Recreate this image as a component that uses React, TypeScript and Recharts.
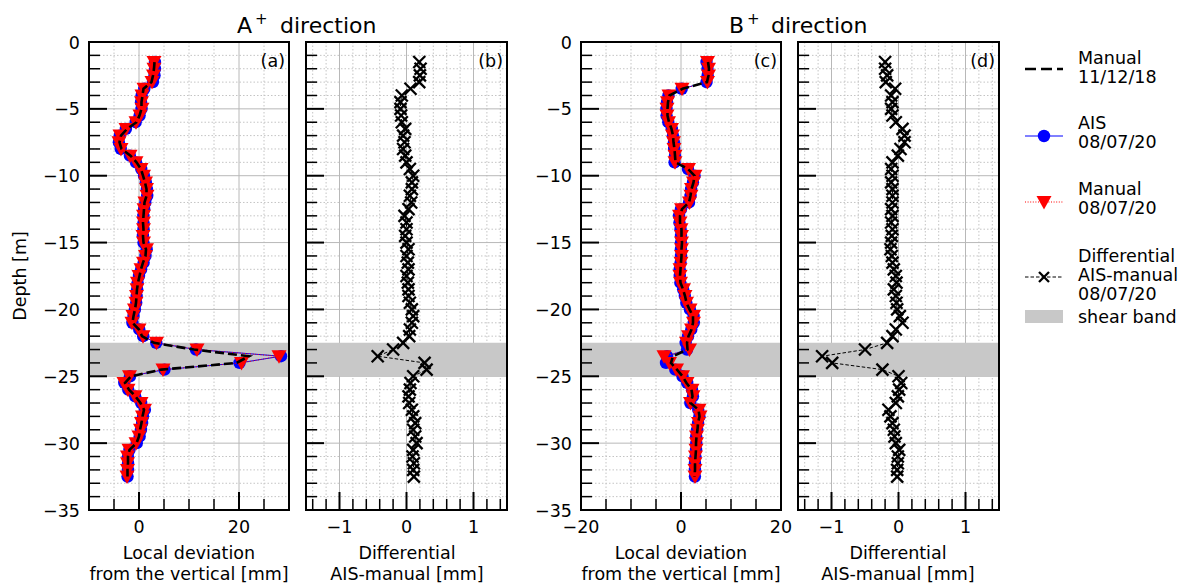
import React from 'react';
import { CartesianGrid, ReferenceArea, Scatter, ScatterChart, XAxis, YAxis } from 'recharts';

// depth of each reading [m]
const depth = [
  -1.5, -2, -2.5, -3, -3.5, -4, -4.5, -5, -5.5, -6, -6.5, -7, -7.5, -8, -8.5, -9, -9.5, -10, -10.5, -11,
  -11.5, -12, -12.5, -13, -13.5, -14, -14.5, -15, -15.5, -16, -16.5, -17, -17.5, -18, -18.5, -19, -19.5,
  -20, -20.5, -21, -21.5, -22, -22.5, -23, -23.5, -24, -24.5, -25, -25.5, -26, -26.5, -27, -27.5, -28,
  -28.5, -29, -29.5, -30, -30.5, -31, -31.5, -32, -32.5,
];

// A+ direction, local deviation [mm]
const manual2018A = [
  3.1, 3.0, 2.8, 2.5, 0.9, 0.7, 0.5, 0.5, 0.1, -0.5, -2.4, -3.6, -3.9, -3.5, -1.7, -0.5, 0.4, 0.8, 1.2, 1.5,
  1.5, 1.1, 1.0, 0.9, 0.8, 0.9, 0.8, 0.9, 1.4, 1.3, 0.8, 0.4, 0.1, -0.2, -0.4, -0.5, -0.6, -0.8, -1.1, -1.3,
  0.0, 0.6, 3.0, 11.0, 22.0, 19.5, 4.5, -1.6, -2.8, -2.0, -0.7, 0.3, 1.0, 0.7, 0.5, 0.2, 0.0, -0.5, -1.9, -2.2,
  -2.2, -2.3, -2.3,
];
const ais2020A = [
  3.19, 3.21, 3.1, 2.79, 1.06, 0.53, 0.41, 0.51, 0.12, -0.67, -2.62, -3.85, -4.03, -3.65, -1.82, -0.6, 0.45,
  1.0, 1.38, 1.58, 1.65, 1.27, 1.03, 0.87, 0.9, 0.9, 0.78, 0.9, 1.53, 1.3, 0.92, 0.43, 0.0, -0.28, -0.37,
  -0.47, -0.55, -0.82, -1.1, -1.32, 0.05, 0.84, 3.45, 11.4, 28.4, 20.1, 5.1, -1.8, -2.94, -2.15, -0.77, 0.44,
  1.18, 0.8, 0.63, 0.4, 0.13, -0.45, -1.9, -2.21, -2.19, -2.2, -2.29,
];
const manual2020A = [
  3.0, 3.0, 2.9, 2.6, 1.0, 0.6, 0.5, 0.6, 0.2, -0.6, -2.6, -3.8, -4.0, -3.6, -1.8, -0.6, 0.4, 0.9, 1.3, 1.5,
  1.6, 1.2, 1.0, 0.9, 0.9, 0.9, 0.8, 0.9, 1.5, 1.3, 0.9, 0.4, 0.0, -0.3, -0.4, -0.5, -0.6, -0.9, -1.2, -1.4,
  0.0, 0.8, 3.5, 11.6, 28.0, 20.5, 4.8, -1.9, -3.0, -2.2, -0.8, 0.4, 1.1, 0.7, 0.5, 0.3, 0.0, -0.6, -2.0, -2.3,
  -2.3, -2.3, -2.4,
];
const diffA = [
  0.19, 0.21, 0.2, 0.19, 0.06, -0.07, -0.09, -0.09, -0.08, -0.07, -0.02, -0.05, -0.03, -0.05, -0.02, 0.0,
  0.05, 0.1, 0.08, 0.08, 0.05, 0.07, 0.03, -0.03, 0.0, 0.0, -0.02, 0.0, 0.03, 0.0, 0.02, 0.03, 0.0, 0.02,
  0.03, 0.03, 0.05, 0.08, 0.1, 0.08, 0.05, 0.04, -0.05, -0.2, -0.43, 0.27, 0.3, 0.1, 0.06, 0.05, 0.03, 0.04,
  0.08, 0.1, 0.13, 0.1, 0.13, 0.15, 0.1, 0.09, 0.11, 0.1, 0.11,
];

// B+ direction, local deviation [mm]
const manual2018B = [
  5.4, 5.6, 5.5, 5.2, 0.3, -2.3, -2.6, -2.7, -2.7, -2.4, -1.9, -1.6, -1.5, -1.3, -1.2, -1.1, 1.4, 2.7, 2.5,
  2.1, 1.9, 1.6, 0.2, -0.2, -0.2, 0.1, 0.1, 0.2, 0.1, 0.1, 0.0, -0.1, -0.2, -0.1, 0.4, 0.8, 1.1, 1.7, 2.4,
  2.4, 2.1, 1.5, 1.2, 1.3, -1.6, -2.0, -0.8, 0.3, 1.1, 2.1, 2.3, 1.9, 3.5, 3.7, 3.4, 3.3, 3.1, 3.0, 3.0, 2.9,
  2.8, 2.8, 2.7,
];
const ais2020B = [
  5.1, 5.3, 5.33, 5.11, 0.15, -2.51, -2.79, -2.91, -2.89, -2.54, -1.84, -1.61, -1.41, -1.37, -1.21, -1.29,
  1.39, 2.71, 2.39, 2.01, 1.91, 1.61, -0.01, -0.39, -0.31, -0.09, 0.0, -0.01, -0.02, 0.0, -0.09, -0.27,
  -0.24, -0.13, 0.43, 0.76, 1.07, 1.78, 2.52, 2.56, 2.06, 1.41, 0.93, 1.2, -2.8, -3.0, -1.14, 0.3, 1.24, 2.21,
  2.39, 1.86, 3.45, 3.68, 3.41, 3.23, 3.04, 3.06, 3.01, 2.89, 2.79, 2.78, 2.78,
];
const manual2020B = [
  5.3, 5.5, 5.5, 5.3, 0.2, -2.4, -2.7, -2.8, -2.8, -2.5, -1.9, -1.7, -1.5, -1.4, -1.2, -1.2, 1.5, 2.8, 2.5,
  2.1, 2.0, 1.7, 0.1, -0.3, -0.2, 0.0, 0.1, 0.1, 0.1, 0.1, 0.0, -0.2, -0.2, -0.1, 0.5, 0.8, 1.1, 1.8, 2.5,
  2.5, 2.1, 1.5, 1.1, 1.7, -3.4, -2.3, -0.9, 0.3, 1.2, 2.2, 2.4, 1.9, 3.6, 3.8, 3.5, 3.3, 3.1, 3.1, 3.0, 2.9,
  2.8, 2.8, 2.8,
];
const diffB = [
  -0.2, -0.2, -0.17, -0.19, -0.05, -0.11, -0.09, -0.11, -0.09, -0.04, 0.06, 0.09, 0.09, 0.03, -0.01, -0.09,
  -0.11, -0.09, -0.11, -0.09, -0.09, -0.09, -0.11, -0.09, -0.11, -0.09, -0.1, -0.11, -0.12, -0.1, -0.09,
  -0.07, -0.04, -0.03, -0.07, -0.04, -0.03, -0.02, 0.02, 0.06, -0.04, -0.09, -0.17, -0.5, -1.14, -0.99,
  -0.24, 0.0, 0.04, 0.01, -0.01, -0.04, -0.15, -0.12, -0.09, -0.07, -0.06, -0.04, 0.01, -0.01, -0.01, -0.02,
  -0.02,
];

const shearBand = [-25, -22.5];

// ticks
const depthTicks = [
  0, -1, -2, -3, -4, -5, -6, -7, -8, -9, -10, -11, -12, -13, -14, -15, -16, -17, -18, -19, -20, -21, -22,
  -23, -24, -25, -26, -27, -28, -29, -30, -31, -32, -33, -34, -35,
];
const depthMajor = [0, -5, -10, -15, -20, -25, -30, -35];
const devTicksA = [-5, 0, 5, 10, 15, 20, 25];
const devMajorA = [0, 20];
const devTicksB = [-15, -10, -5, 0, 5, 10, 15];
const devMajorB = [-20, 0, 20];
const diffTicks = [-1.4, -1.2, -1, -0.8, -0.6, -0.4, -0.2, 0, 0.2, 0.4, 0.6, 0.8, 1, 1.2, 1.4];
const diffMajor = [-1, 0, 1];

const FONT = 'DejaVu Sans';
const FS = 17.5;

const fmt = (n: number) => (n < 0 ? '\u2212' + Math.abs(n) : String(n));
const toPoints = (vals: number[]) => vals.map((v, i) => ({ v, d: depth[i] }));

const xTick = (major: number[]) => (props: any) => {
  const { x, y, payload } = props;
  const isMajor = major.includes(payload.value);
  return (
    <g>
      <line x1={x} x2={x} y1={y} y2={y - (isMajor ? 18 : 11)} stroke="#000" strokeWidth={isMajor ? 2 : 1.5} />
      {isMajor && (
        <text x={x} y={y + 23} textAnchor="middle" fontFamily={FONT} fontSize={FS} fill="#000">
          {fmt(payload.value)}
        </text>
      )}
    </g>
  );
};

const yTick = (major: number[], labels: boolean) => (props: any) => {
  const { x, y, payload } = props;
  const isMajor = major.includes(payload.value);
  return (
    <g>
      <line x1={x} x2={x + (isMajor ? 18 : 11)} y1={y} y2={y} stroke="#000" strokeWidth={isMajor ? 2 : 1.5} />
      {isMajor && labels && (
        <text x={x - 9} y={y + 6.5} textAnchor="end" fontFamily={FONT} fontSize={FS} fill="#000">
          {fmt(payload.value)}
        </text>
      )}
    </g>
  );
};

const blueDot = (p: any) => <circle cx={p.cx} cy={p.cy} r={6.2} fill="#0000ff" />;
const redTri = (p: any) => (
  <polygon
    points={`${p.cx - 7.5},${p.cy - 6} ${p.cx + 7.5},${p.cy - 6} ${p.cx},${p.cy + 7.5}`}
    fill="#ff0000"
  />
);
const cross = (p: any) => (
  <g stroke="#000" strokeWidth={2.3}>
    <line x1={p.cx - 6} y1={p.cy - 6} x2={p.cx + 6} y2={p.cy + 6} />
    <line x1={p.cx - 6} y1={p.cy + 6} x2={p.cx + 6} y2={p.cy - 6} />
  </g>
);
const noMark = () => <g />;

type PanelProps = {
  left: number;
  axisWidth: number;
  plotWidth: number;
  xDomain: [number, number];
  xTicks: number[];
  xMajor: number[];
  depthLabels: boolean;
  children: React.ReactNode;
};

function Panel({ left, axisWidth, plotWidth, xDomain, xTicks, xMajor, depthLabels, children }: PanelProps) {
  const minorY = depthTicks.filter((t) => !depthMajor.includes(t));
  const minorX = xTicks.filter((t) => !xMajor.includes(t));
  return (
    <div style={{ position: 'absolute', left, top: 0 }}>
      <ScatterChart
        width={axisWidth + plotWidth + 20}
        height={585}
        margin={{ top: 42, right: 20, bottom: 35, left: 0 }}
      >
        <CartesianGrid horizontalValues={minorY} verticalValues={minorX} stroke="#c4c4c4" strokeDasharray="1.5 2" />
        <CartesianGrid horizontalValues={depthMajor} verticalValues={xMajor} stroke="#b8b8b8" />
        <XAxis
          type="number"
          dataKey="v"
          domain={xDomain}
          ticks={[...xTicks, ...xMajor.filter((t) => !xTicks.includes(t))]}
          interval={0}
          tickSize={0}
          tickMargin={0}
          tickLine={false}
          axisLine={false}
          tick={xTick(xMajor)}
          height={40}
        />
        <YAxis
          type="number"
          dataKey="d"
          domain={[-35, 0]}
          ticks={depthTicks}
          interval={0}
          tickSize={0}
          tickMargin={0}
          tickLine={false}
          axisLine={false}
          tick={yTick(depthMajor, depthLabels)}
          width={axisWidth}
        />
        <ReferenceArea
          x1={xDomain[0]}
          x2={xDomain[1]}
          y1={shearBand[0]}
          y2={shearBand[1]}
          fill="#c8c8c8"
          fillOpacity={1}
          stroke="none"
        />
        {children}
        <ReferenceArea
          x1={xDomain[0]}
          x2={xDomain[1]}
          y1={-35}
          y2={0}
          fill="none"
          fillOpacity={0}
          stroke="#000"
          strokeWidth={2}
        />
      </ScatterChart>
    </div>
  );
}

const profileSeries = (ais: number[], man20: number[], man18: number[]) => [
  <Scatter
    key="ais"
    data={toPoints(ais)}
    shape={blueDot}
    line={{ stroke: '#0000ff', strokeWidth: 1 }}
    isAnimationActive={false}
  />,
  <Scatter
    key="man20"
    data={toPoints(man20)}
    shape={redTri}
    line={{ stroke: '#ff0000', strokeWidth: 1, strokeDasharray: '1 1.6' }}
    isAnimationActive={false}
  />,
  <Scatter
    key="man18"
    data={toPoints(man18)}
    shape={noMark}
    line={{ stroke: '#000', strokeWidth: 2.6, strokeDasharray: '9 4' }}
    isAnimationActive={false}
  />,
];

const diffSeries = (diff: number[]) => (
  <Scatter
    data={toPoints(diff)}
    shape={cross}
    line={{ stroke: '#000', strokeWidth: 1, strokeDasharray: '3.5 2' }}
    isAnimationActive={false}
  />
);

const txt = { fontFamily: FONT, fontSize: FS, fill: '#000' } as const;

function Overlay() {
  return (
    <svg
      width={1189}
      height={585}
      style={{ position: 'absolute', left: 0, top: 0, pointerEvents: 'none' }}
    >
      <text x={237} y={33} fontFamily={FONT} fontSize={22} fill="#000">
        A<tspan dx={3} dy={-9} fontSize={15}>+</tspan>
        <tspan x={280} dy={9}>direction</tspan>
      </text>
      <text x={729} y={33} fontFamily={FONT} fontSize={22} fill="#000">
        B<tspan dx={3} dy={-9} fontSize={15}>+</tspan>
        <tspan x={771} dy={9}>direction</tspan>
      </text>

      <text {...txt} transform="translate(26,276) rotate(-90)" textAnchor="middle">Depth [m]</text>

      <text {...txt} x={189} y={559} textAnchor="middle">Local deviation</text>
      <text {...txt} x={189} y={580} textAnchor="middle">from the vertical [mm]</text>
      <text {...txt} x={407} y={559} textAnchor="middle">Differential</text>
      <text {...txt} x={407} y={580} textAnchor="middle">AIS-manual [mm]</text>
      <text {...txt} x={681} y={559} textAnchor="middle">Local deviation</text>
      <text {...txt} x={681} y={580} textAnchor="middle">from the vertical [mm]</text>
      <text {...txt} x={898} y={559} textAnchor="middle">Differential</text>
      <text {...txt} x={898} y={580} textAnchor="middle">AIS-manual [mm]</text>

      <text {...txt} x={285} y={67} textAnchor="end">(a)</text>
      <text {...txt} x={503} y={67} textAnchor="end">(b)</text>
      <text {...txt} x={777} y={67} textAnchor="end">(c)</text>
      <text {...txt} x={995} y={67} textAnchor="end">(d)</text>

      {/* legend */}
      <line x1={1025} x2={1063} y1={69} y2={69} stroke="#000" strokeWidth={2.6} strokeDasharray="11 5" />
      <text {...txt} x={1078} y={64}>Manual</text>
      <text {...txt} x={1078} y={83}>11/12/18</text>

      <line x1={1025} x2={1063} y1={136} y2={136} stroke="#0000ff" strokeWidth={1} />
      <circle cx={1044} cy={136} r={6.2} fill="#0000ff" />
      <text {...txt} x={1078} y={129}>AIS</text>
      <text {...txt} x={1078} y={148}>08/07/20</text>

      <line x1={1025} x2={1063} y1={202} y2={202} stroke="#ff0000" strokeWidth={1} strokeDasharray="1 1.6" />
      <polygon points="1036.5,196 1051.5,196 1044,209.5" fill="#ff0000" />
      <text {...txt} x={1078} y={195}>Manual</text>
      <text {...txt} x={1078} y={214}>08/07/20</text>

      <line x1={1025} x2={1063} y1={277} y2={277} stroke="#000" strokeWidth={1} strokeDasharray="3.5 2" />
      <g stroke="#000" strokeWidth={2.3}>
        <line x1={1039} y1={272} x2={1049} y2={282} />
        <line x1={1039} y1={282} x2={1049} y2={272} />
      </g>
      <text {...txt} x={1078} y={262}>Differential</text>
      <text {...txt} x={1078} y={281}>AIS-manual</text>
      <text {...txt} x={1078} y={300}>08/07/20</text>

      <rect x={1025} y={310} width={38} height={13} fill="#c8c8c8" />
      <text {...txt} x={1078} y={323}>shear band</text>
    </svg>
  );
}

export default function App() {
  return (
    <div style={{ position: 'absolute', left: 0, top: 0, width: 1189, height: 585, background: '#fff' }}>
      <Panel left={0} axisWidth={89} plotWidth={200} xDomain={[-10, 30]} xTicks={devTicksA} xMajor={devMajorA} depthLabels>
        {profileSeries(ais2020A, manual2020A, manual2018A)}
      </Panel>
      <Panel left={296} axisWidth={10} plotWidth={201} xDomain={[-1.5, 1.5]} xTicks={diffTicks} xMajor={diffMajor} depthLabels={false}>
        {diffSeries(diffA)}
      </Panel>
      <Panel left={521} axisWidth={60} plotWidth={200} xDomain={[-20, 20]} xTicks={devTicksB} xMajor={devMajorB} depthLabels>
        {profileSeries(ais2020B, manual2020B, manual2018B)}
      </Panel>
      <Panel left={788} axisWidth={10} plotWidth={201} xDomain={[-1.5, 1.5]} xTicks={diffTicks} xMajor={diffMajor} depthLabels={false}>
        {diffSeries(diffB)}
      </Panel>
      <Overlay />
    </div>
  );
}
